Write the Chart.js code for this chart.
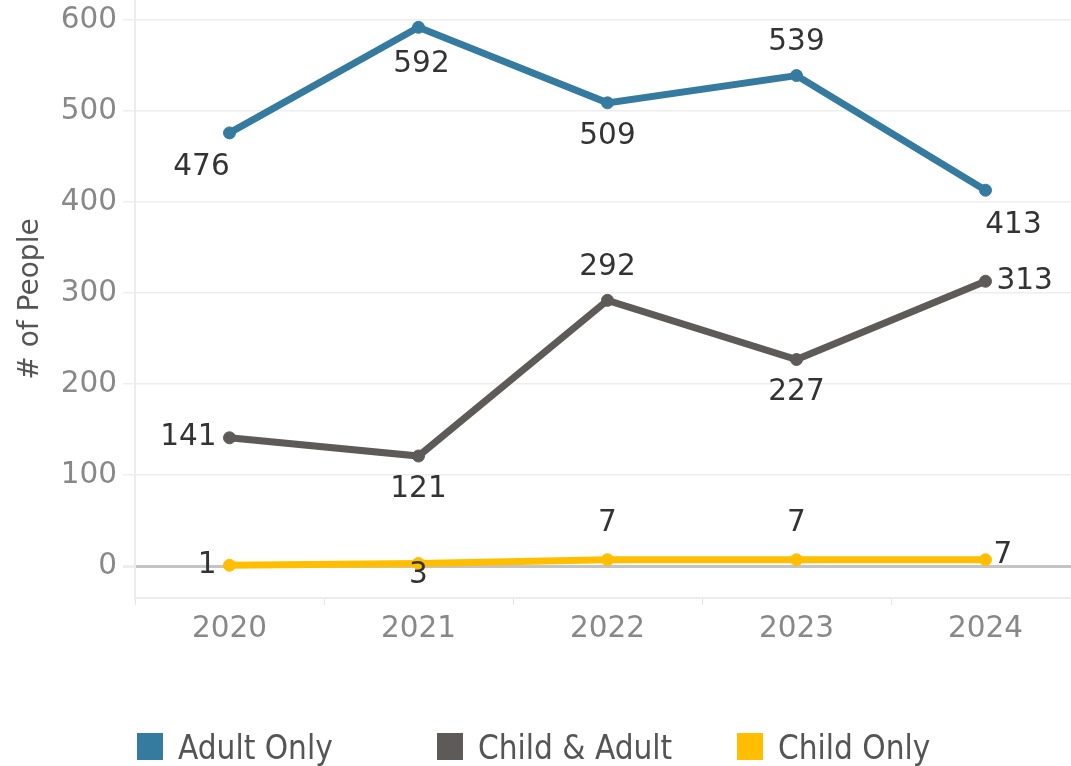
<!DOCTYPE html>
<html>
<head>
<meta charset="utf-8">
<script src="https://cdn.jsdelivr.net/npm/chart.js@4"></script>
<style>
  body { margin: 0; overflow: hidden; background: #fff; }
  #wrap { position: absolute; left: 0; top: 0; width: 1080px; height: 766px; }
  .legend { position: absolute; top: 730px; left: 0; font-family: "DejaVu Sans Condensed", "DejaVu Sans", sans-serif; font-size: 33px; color: #555; }
  .item { position: absolute; white-space: nowrap; line-height: 36px; }
  .box { position: absolute; top: 3px; width: 26px; height: 27px; }
  .lbl { position: absolute; left: 41px; top: 0; }
</style>
</head>
<body>
<div id="wrap"><canvas id="chart"></canvas></div>
<div class="legend" id="legend"></div>
<script>
const years = ['2020', '2021', '2022', '2023', '2024']
const adultOnly = [476, 592, 509, 539, 413]
const childAdult = [141, 121, 292, 227, 313]
const childOnly = [1, 3, 7, 7, 7]
const seriesNames = ['Adult Only', 'Child & Adult', 'Child Only']
const seriesColors = ['#357a9f', '#5e5a57', '#ffbf00']
const yTicks = [0, 100, 200, 300, 400, 500, 600]

// where each value label sits relative to its point: [dx, dy, align]
const labelSpots = [
    [[-28, 34, 'center'], [3, 37, 'center'], [0, 33, 'center'], [0, -33, 'center'], [28, 35, 'center']],
    [[-13, 0, 'right'], [0, 33, 'center'], [0, -33, 'center'], [0, 33, 'center'], [11, 0, 'left']],
    [[-13, 0, 'right'], [0, 12, 'center'], [0, -36, 'center'], [0, -36, 'center'], [8, -4, 'left']]
]

const valueLabels = {
    id: 'valueLabels',
    afterDatasetsDraw(chart) {
        const ctx = chart.ctx
        ctx.save()
        ctx.font = '29.5px "DejaVu Sans", sans-serif'
        ctx.fillStyle = '#333'
        ctx.textBaseline = 'middle'
        chart.data.datasets.forEach((ds, i) => {
            chart.getDatasetMeta(i).data.forEach((pt, j) => {
                const s = labelSpots[i][j]
                ctx.textAlign = s[2]
                ctx.fillText(ds.data[j], pt.x + s[0], pt.y + s[1])
            })
        })
        ctx.restore()
    }
}

const sets = [adultOnly, childAdult, childOnly].map((d, i) => ({
    label: seriesNames[i],
    data: d,
    borderColor: seriesColors[i],
    backgroundColor: seriesColors[i],
    borderWidth: 7,
    pointRadius: 6,
    pointBorderWidth: 1,
    tension: 0
}))

const tickFont = { family: '"DejaVu Sans", sans-serif', size: 29.5 }

new Chart(document.getElementById('chart'), {
    type: 'line',
    data: { labels: years, datasets: sets },
    options: {
        responsive: true,
        maintainAspectRatio: false,
        animation: false,
        layout: { padding: 0, autoPadding: false },
        plugins: { legend: { display: false }, tooltip: { enabled: false } },
        scales: {
            x: {
                offset: true,
                grid: { offset: true, drawOnChartArea: false, color: '#e4e4e4', tickLength: 7 },
                border: { color: '#ececec', width: 2 },
                ticks: { color: '#888', font: tickFont, padding: 7, maxRotation: 0 },
                afterFit(s) { s.height = 168; s.paddingLeft = 0; s.paddingRight = 0 }
            },
            y: {
                min: -35,
                max: 622,
                afterBuildTicks(s) { s.ticks = yTicks.map(v => ({ value: v })) },
                grid: {
                    color: c => c.tick && c.tick.value === 0 ? '#c4c4c4' : '#eeeeee',
                    lineWidth: c => c.tick && c.tick.value === 0 ? 3 : 1.5,
                    tickColor: '#eeeeee',
                    tickLength: 12
                },
                border: { color: '#ececec', width: 2 },
                ticks: { color: '#888', font: tickFont, padding: 6 },
                title: { display: true, text: '# of People', color: '#555', font: { family: '"DejaVu Sans", sans-serif', size: 28 }, padding: { top: 14, bottom: 0 } },
                afterFit(s) { s.width = 135; s.paddingTop = 0; s.paddingBottom = 0 }
            }
        }
    },
    plugins: [valueLabels]
})

const legendLeft = [137, 437, 737]
const legend = document.getElementById('legend')
seriesNames.forEach((n, i) => {
    const it = document.createElement('div')
    it.className = 'item'
    it.style.left = legendLeft[i] + 'px'
    it.innerHTML = '<span class="box" style="background:' + seriesColors[i] + '"></span><span class="lbl"></span>'
    it.querySelector('.lbl').textContent = n
    legend.appendChild(it)
})
</script>
</body>
</html>
